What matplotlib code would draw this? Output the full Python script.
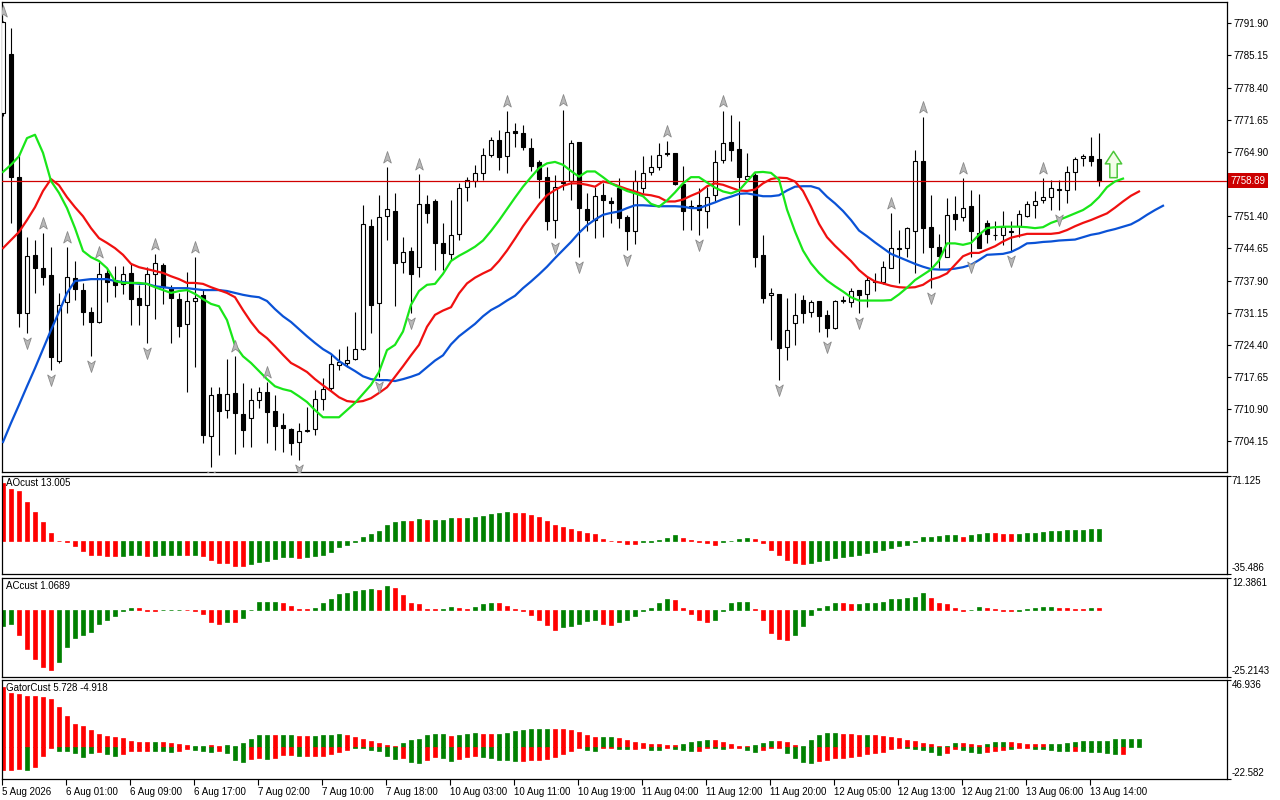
import numpy as np
import matplotlib
matplotlib.use('Agg')
import matplotlib.pyplot as plt
from matplotlib.path import Path
from matplotlib.transforms import offset_copy, blended_transform_factory

# ---------------- data ----------------
opens = [7773.1, 7785.5, 7759.6, 7731.1, 7743.2, 7740.5, 7739.0, 7721.0, 7733.4, 7738.4,
         7735.9, 7731.3, 7729.3, 7739.5, 7738.0, 7737.2, 7739.5, 7734.2, 7732.7, 7739.3,
         7741.1, 7736.3, 7734.0, 7728.8, 7733.6, 7734.8, 7705.2, 7714.0, 7710.7, 7714.3,
         7709.9, 7709.0, 7712.8, 7714.5, 7710.5, 7707.6, 7706.7, 7704.0, 7706.4, 7706.7,
         7713.0, 7715.3, 7720.2, 7720.6, 7721.4, 7723.5, 7749.3, 7733.2, 7751.4, 7752.5,
         7741.7, 7744.1, 7740.7, 7753.9, 7754.6, 7745.7, 7743.4, 7747.6, 7757.5, 7758.8,
         7760.4, 7764.2, 7767.5, 7764.0, 7769.3, 7768.8, 7765.7, 7762.7, 7759.6, 7750.7,
         7758.5, 7758.7, 7767.0, 7753.0, 7750.6, 7755.8, 7754.5, 7757.3, 7751.3, 7748.2,
         7757.3, 7760.6, 7761.8, 7764.7, 7764.6, 7758.2, 7753.5, 7753.8, 7752.4, 7755.9,
         7763.1, 7766.9, 7765.5, 7759.3, 7760.1, 7743.3, 7734.8, 7735.1, 7723.9, 7729.0,
         7733.8, 7731.2, 7733.6, 7730.6, 7727.9, 7733.7, 7733.5, 7735.9, 7735.0, 7737.6,
         7737.5, 7740.6, 7744.7, 7744.7, 7748.2, 7763.0, 7749.2, 7744.9, 7742.9, 7751.9,
         7751.2, 7753.5, 7747.8, 7749.9, 7747.5, 7747.4, 7748.1, 7749.3, 7751.5, 7753.7,
         7754.8, 7755.5, 7757.0, 7756.9, 7760.6, 7763.6, 7764.0, 7763.4]
highs = [7792.4, 7790.9, 7764.5, 7747.0, 7746.4, 7747.9, 7744.9, 7735.3, 7744.9, 7742.0,
         7737.4, 7732.3, 7741.8, 7740.5, 7741.0, 7740.9, 7741.6, 7737.0, 7740.7, 7743.5,
         7741.6, 7737.0, 7735.3, 7739.7, 7742.8, 7735.9, 7715.5, 7715.5, 7721.4, 7722.0,
         7716.4, 7715.3, 7715.5, 7716.6, 7713.8, 7710.1, 7707.0, 7708.0, 7711.3, 7714.9,
         7717.4, 7722.5, 7723.5, 7724.1, 7731.3, 7753.8, 7750.8, 7755.8, 7761.7, 7756.2,
         7747.1, 7745.0, 7760.2, 7755.9, 7755.0, 7749.9, 7754.8, 7758.3, 7759.7, 7762.2,
         7765.7, 7768.1, 7769.6, 7773.4, 7770.9, 7770.6, 7767.8, 7763.2, 7761.8, 7760.1,
         7773.8, 7767.4, 7767.0, 7756.2, 7757.6, 7758.3, 7755.5, 7759.4, 7751.6, 7761.1,
         7764.0, 7764.3, 7766.7, 7767.2, 7764.6, 7761.9, 7754.8, 7757.3, 7757.6, 7765.3,
         7773.4, 7772.7, 7771.3, 7764.6, 7760.4, 7747.5, 7736.3, 7735.1, 7734.2, 7735.2,
         7734.9, 7733.9, 7733.6, 7731.8, 7733.9, 7734.6, 7736.3, 7736.0, 7738.7, 7739.5,
         7741.9, 7752.0, 7748.5, 7749.2, 7765.4, 7772.3, 7755.9, 7747.7, 7755.2, 7755.6,
         7759.4, 7756.9, 7756.0, 7750.6, 7750.5, 7752.4, 7750.3, 7752.7, 7754.5, 7756.6,
         7759.4, 7759.0, 7759.1, 7761.9, 7763.9, 7764.4, 7768.1, 7768.8]
lows = [7772.5, 7750.0, 7728.1, 7726.9, 7735.3, 7736.9, 7719.1, 7720.6, 7731.1, 7733.8,
        7728.6, 7722.0, 7729.0, 7733.4, 7734.5, 7735.0, 7728.6, 7728.6, 7724.8, 7729.8,
        7733.0, 7724.8, 7726.0, 7714.5, 7719.7, 7703.8, 7698.7, 7701.2, 7709.0, 7701.5,
        7702.9, 7702.9, 7711.1, 7703.8, 7702.3, 7701.9, 7701.2, 7700.2, 7706.2, 7705.4,
        7710.7, 7714.9, 7719.1, 7719.7, 7721.2, 7723.3, 7726.9, 7717.6, 7746.4, 7732.5,
        7739.4, 7731.0, 7738.7, 7749.9, 7740.2, 7740.1, 7742.2, 7746.4, 7754.5, 7757.6,
        7759.0, 7763.9, 7761.1, 7760.4, 7766.0, 7765.3, 7760.8, 7755.2, 7748.5, 7746.8,
        7756.9, 7754.8, 7742.8, 7748.2, 7746.8, 7747.0, 7749.9, 7748.9, 7744.3, 7745.6,
        7756.2, 7760.1, 7761.1, 7764.0, 7758.0, 7748.5, 7748.5, 7747.5, 7748.9, 7754.5,
        7762.5, 7762.9, 7749.6, 7758.7, 7740.8, 7733.1, 7725.5, 7717.0, 7721.2, 7724.4,
        7728.9, 7730.2, 7727.2, 7726.1, 7727.8, 7733.2, 7732.4, 7731.0, 7732.4, 7735.6,
        7737.2, 7740.5, 7737.3, 7742.9, 7739.4, 7743.6, 7736.3, 7740.5, 7742.9, 7748.5,
        7750.3, 7742.9, 7744.8, 7745.7, 7746.4, 7745.4, 7744.0, 7747.1, 7751.2, 7751.0,
        7754.2, 7752.7, 7752.7, 7754.1, 7756.9, 7761.9, 7761.9, 7757.7]
closes = [7792.2, 7759.6, 7731.1, 7743.0, 7740.5, 7738.6, 7721.8, 7732.7, 7738.6, 7736.1,
          7731.3, 7729.2, 7739.3, 7737.6, 7737.0, 7739.3, 7734.0, 7732.7, 7739.3, 7741.6,
          7736.5, 7734.2, 7728.3, 7733.6, 7734.2, 7705.4, 7713.8, 7710.5, 7714.0, 7710.1,
          7706.5, 7712.8, 7714.5, 7710.3, 7707.3, 7706.9, 7703.8, 7706.3, 7706.6, 7713.0,
          7715.1, 7720.4, 7720.8, 7721.2, 7723.5, 7749.8, 7732.7, 7751.2, 7752.9, 7741.6,
          7743.8, 7739.2, 7753.9, 7752.0, 7745.7, 7743.6, 7747.4, 7757.3, 7759.0, 7760.4,
          7764.2, 7767.5, 7763.9, 7769.0, 7768.8, 7766.0, 7762.0, 7759.2, 7750.5, 7757.6,
          7758.3, 7766.7, 7753.2, 7750.6, 7755.6, 7754.9, 7754.1, 7751.0, 7748.4, 7758.7,
          7760.5, 7761.8, 7764.2, 7764.5, 7758.1, 7752.4, 7753.4, 7752.7, 7755.4, 7762.7,
          7766.7, 7765.2, 7759.7, 7759.8, 7742.9, 7734.2, 7735.2, 7723.7, 7727.5, 7730.7,
          7731.0, 7733.4, 7730.5, 7727.9, 7733.6, 7733.8, 7735.7, 7734.9, 7738.0, 7737.7,
          7740.7, 7744.7, 7744.6, 7748.9, 7763.0, 7748.9, 7745.0, 7743.1, 7751.7, 7750.9,
          7753.1, 7748.2, 7744.8, 7747.7, 7747.4, 7749.2, 7748.2, 7751.9, 7754.0, 7754.6,
          7755.4, 7757.3, 7757.1, 7760.6, 7763.4, 7764.0, 7762.9, 7758.9]

jaw = [7704.0, 7708.0, 7711.8, 7715.7, 7719.5, 7723.5, 7727.5, 7731.3, 7735.3, 7737.8,
       7738.0, 7738.2, 7738.2, 7738.2, 7737.8, 7737.6, 7737.4, 7737.2, 7737.2, 7736.7,
       7736.5, 7736.3, 7736.3, 7736.3, 7736.1, 7735.9, 7735.9, 7735.9, 7735.7, 7735.3,
       7734.9, 7734.6, 7734.4, 7733.6, 7731.9, 7730.4, 7729.2, 7727.7, 7726.2, 7724.8,
       7723.5, 7722.5, 7721.0, 7719.9, 7718.9, 7717.8, 7717.2, 7717.0, 7717.0, 7716.8,
       7717.2, 7717.7, 7718.3, 7719.7, 7721.1, 7722.2, 7724.5, 7726.2, 7727.5, 7728.8,
       7730.4, 7731.7, 7732.6, 7733.7, 7734.7, 7736.3, 7737.7, 7739.2, 7740.8, 7742.6,
       7744.3, 7746.0, 7747.9, 7749.5, 7750.7, 7751.7, 7752.1, 7752.4, 7753.1, 7753.7,
       7753.7, 7753.6, 7753.5, 7753.5, 7753.5, 7753.4, 7753.1, 7753.1, 7753.7, 7754.3,
       7755.0, 7755.5, 7756.1, 7756.2, 7755.9, 7755.6, 7755.6, 7755.8, 7756.8, 7757.6,
       7757.7, 7757.7, 7757.2, 7755.5, 7754.1, 7752.5, 7750.6, 7748.4, 7747.2, 7745.9,
       7744.7, 7743.5, 7742.8, 7742.1, 7741.4, 7740.8, 7740.3, 7740.2, 7740.2, 7740.4,
       7740.7, 7741.2, 7742.2, 7743.3, 7743.4, 7743.5, 7743.9, 7744.7, 7745.7, 7745.8,
       7746.0, 7746.1, 7746.3, 7746.4, 7746.5, 7747.0, 7747.5, 7747.8, 7748.3, 7748.7,
       7749.2, 7749.7, 7750.6, 7751.7, 7752.7, 7753.6]
teeth = [7744.7, 7746.4, 7748.1, 7750.6, 7753.3, 7756.7, 7759.2, 7757.9, 7755.4, 7753.3,
         7751.4, 7748.9, 7746.8, 7745.8, 7744.7, 7743.3, 7741.4, 7740.7, 7740.3, 7739.9,
         7739.5, 7738.8, 7738.2, 7737.4, 7737.4, 7737.2, 7736.5, 7735.9, 7735.3, 7734.4,
         7731.7, 7729.2, 7727.1, 7725.8, 7724.1, 7722.3, 7720.6, 7719.7, 7718.7, 7717.2,
         7715.9, 7714.7, 7713.4, 7712.6, 7712.4, 7712.6, 7713.2, 7714.3, 7715.5, 7717.7,
         7719.9, 7722.2, 7724.4, 7728.2, 7730.7, 7731.6, 7732.3, 7735.2, 7737.3, 7738.5,
         7739.4, 7740.2, 7742.0, 7744.2, 7746.7, 7749.3, 7751.6, 7753.9, 7755.8, 7756.9,
         7757.8, 7758.3, 7758.3, 7758.0, 7757.6, 7758.7, 7758.3, 7757.7, 7757.1, 7756.6,
         7756.0, 7755.8, 7755.4, 7754.5, 7754.5, 7754.9, 7755.7, 7756.4, 7757.7, 7758.3,
         7758.0, 7757.4, 7756.8, 7756.7, 7757.0, 7758.3, 7759.2, 7759.5, 7759.4, 7758.7,
         7756.7, 7753.4, 7749.8, 7747.0, 7745.2, 7743.6, 7742.0, 7740.1, 7738.7, 7737.7,
         7737.3, 7736.8, 7736.5, 7736.4, 7736.5, 7737.0, 7738.1, 7738.6, 7739.4, 7741.2,
         7743.0, 7743.7, 7743.7, 7744.4, 7745.1, 7746.1, 7746.9, 7747.3, 7747.7, 7747.7,
         7747.7, 7747.7, 7747.9, 7748.5, 7749.3, 7750.0, 7750.6, 7751.3, 7752.0, 7753.2,
         7754.5, 7755.7, 7756.6]
lips = [7760.7, 7762.2, 7764.0, 7767.8, 7768.5, 7764.7, 7758.8, 7756.3, 7753.1, 7748.9,
        7744.1, 7742.8, 7742.0, 7740.5, 7737.8, 7737.4, 7737.4, 7737.4, 7737.2, 7736.5,
        7735.9, 7735.3, 7735.7, 7735.9, 7735.1, 7734.0, 7733.0, 7732.5, 7729.6, 7724.3,
        7722.0, 7720.6, 7718.9, 7717.2, 7715.7, 7715.1, 7714.7, 7713.6, 7712.4, 7710.7,
        7709.2, 7709.2, 7709.2, 7710.7, 7712.2, 7714.1, 7716.0, 7718.7, 7723.3, 7724.4,
        7727.2, 7732.8, 7735.7, 7737.0, 7737.2, 7739.3, 7742.0, 7743.1, 7744.0, 7745.0,
        7746.3, 7748.3, 7750.5, 7752.9, 7755.3, 7757.6, 7759.6, 7761.5, 7762.5, 7762.8,
        7762.2, 7760.9, 7759.7, 7760.8, 7760.8, 7759.6, 7758.3, 7757.5, 7756.7, 7756.2,
        7755.6, 7754.0, 7753.4, 7754.7, 7756.4, 7758.3, 7759.6, 7759.6, 7758.5, 7757.4,
        7756.6, 7756.2, 7756.8, 7758.7, 7760.6, 7760.7, 7760.5, 7759.1, 7752.8, 7748.2,
        7744.2, 7741.5, 7739.5, 7737.9, 7736.7, 7735.6, 7734.4, 7733.7, 7733.7, 7733.7,
        7733.7, 7733.8, 7735.0, 7736.4, 7738.0, 7739.1, 7740.2, 7742.1, 7745.7, 7745.7,
        7745.4, 7745.8, 7747.5, 7748.9, 7749.1, 7749.2, 7749.2, 7749.2, 7749.1, 7748.9,
        7749.1, 7750.0, 7750.6, 7751.3, 7752.0, 7752.7, 7753.8, 7755.4, 7757.5, 7758.7,
        7759.3]

fractal_up = [0, 5, 8, 12, 19, 24, 29, 33, 48, 52, 63, 70, 83, 90, 111, 115, 120, 130]
fractal_down = [3, 6, 11, 18, 26, 37, 47, 51, 69, 72, 78, 87, 97, 103, 107, 116, 121, 126, 132]
signal_x, signal_price = 138.8, 7762.4
current_price = 7758.89

ao = [63.0, 56.8, 53.9, 42.9, 31.9, 20.9, 8.4, 0.4, -1.1, -5.5,
      -11.0, -14.7, -14.7, -16.5, -16.5, -16.5, -14.7, -14.7, -15.8, -15.8,
      -14.7, -14.7, -14.7, -14.7, -14.7, -16.5, -20.2, -23.1, -23.1, -26.7,
      -26.7, -24.9, -22.7, -21.3, -19.1, -17.6, -17.6, -18.3, -17.6, -16.5,
      -14.7, -11.4, -6.6, -4.0, -0.7, 4.4, 7.3, 10.6, 17.2, 20.5,
      21.6, 21.6, 23.8, 22.7, 22.7, 22.7, 24.9, 24.9, 24.9, 26.0,
      27.5, 29.3, 30.4, 31.5, 30.4, 30.4, 28.2, 26.0, 21.6, 17.2,
      15.0, 12.8, 10.6, 8.4, 7.3, 2.9, 0.7, -1.1, -2.6, -2.6,
      -1.1, -1.1, 1.8, 4.0, 6.2, 4.0, 1.8, -1.1, -2.2, -3.7,
      -1.1, 0.4, 2.9, 4.0, 2.9, -1.8, -9.2, -14.7, -20.2, -23.1,
      -24.5, -23.1, -21.3, -20.2, -18.7, -17.6, -16.5, -15.4, -13.2, -12.1,
      -9.9, -7.3, -5.5, -3.7, -1.1, 4.4, 4.4, 5.5, 6.2, 6.2,
      5.1, 6.2, 7.7, 8.8, 8.8, 7.7, 7.7, 7.7, 8.8, 8.8,
      9.9, 10.6, 10.6, 12.1, 12.1, 12.1, 13.2, 13.2]
ao_colors = ("rrrrrrrrrrrrrrr" "ggg" "r" "gggg" "r" "g" "rrrrrr" "gggggg" "r" "gggggggggg"
             "ggg" "r" "g" "r" "ggg" "r" "gggggg" "rrrrrrrrrrrrrrrr" "ggggg" "rrrrr" "gggg"
             "rrrrrrr" "ggggggggggggggggggg" "r" "ggg" "rrr" "ggggggggggg")

ac = [-5.9, -5.0, -9.3, -14.7, -18.5, -21.6, -22.4, -19.6, -13.9, -10.5,
      -9.3, -8.2, -5.1, -3.6, -2.3, -0.3, 1.0, 1.0, -0.2, -0.3,
      0.1, 0.1, 0.1, 0.1, -0.3, -1.5, -4.3, -5.0, -4.3, -4.3,
      -3.1, 0.1, 3.1, 3.3, 3.3, 2.7, 1.8, 0.3, 0.3, 1.0,
      2.6, 4.1, 6.1, 6.7, 7.2, 7.5, 7.9, 7.5, 9.1, 8.3,
      5.6, 2.9, 2.2, 0.3, 0.3, 0.3, 1.4, 1.0, 0.6, 1.4,
      2.2, 2.9, 2.9, 1.8, 0.6, -0.3, -1.9, -3.5, -5.4, -7.3,
      -6.5, -5.8, -5.0, -4.2, -3.8, -5.0, -5.4, -4.6, -3.8, -2.3,
      -0.3, 1.0, 2.6, 4.1, 3.7, 1.0, -1.5, -3.5, -4.6, -3.8,
      -0.3, 2.6, 3.3, 3.3, 0.6, -3.8, -8.4, -10.7, -11.1, -9.2,
      -5.8, -1.9, 1.0, 1.8, 2.6, 2.6, 2.2, 2.2, 2.6, 2.9,
      3.3, 4.1, 4.1, 4.5, 5.2, 6.4, 4.5, 2.9, 2.2, 1.0,
      -0.3, 0.1, 1.4, 1.0, 0.6, -0.3, -0.3, -0.3, 0.6, 1.0,
      1.4, 1.4, 1.0, 1.0, 0.6, 0.6, 1.0, 1.0]
ac_colors = ("gg" "rrrrr" "gggggggggg" "rrr" "ggg" "rrrrr" "g" "r" "ggggg" "rrrr" "gggggggg"
             "r" "g" "rrrrrr" "gg" "rr" "ggg" "rrrrrrrr" "ggggg" "rr" "ggggggg" "rrrrr"
             "ggggg" "rrrrr" "gggggg" "rr" "ggggggggg" "rrrrr" "gg" "rrrr" "ggggg" "rrrr" "g" "r")

gator_up = [41.4, 37.4, 36.7, 35.5, 35.5, 34.5, 33.1, 27.7, 21.3, 16.1,
            14.2, 11.8, 9.0, 7.6, 6.6, 5.9, 4.0, 3.3, 3.3, 3.3,
            3.3, 2.6, 1.7, 1.2, 0.7, 0.7, 1.2, 0.7, 1.2, 0.7,
            2.8, 5.4, 8.3, 8.3, 8.3, 8.3, 8.3, 7.6, 7.6, 7.6,
            8.3, 8.3, 9.0, 8.3, 6.6, 5.4, 4.0, 2.8, 1.2, 0.5,
            2.8, 4.7, 5.4, 8.3, 9.0, 9.0, 7.6, 8.3, 9.0, 9.7,
            9.0, 9.0, 9.0, 9.7, 11.1, 11.8, 12.5, 12.5, 12.5, 12.5,
            12.5, 11.8, 10.4, 8.3, 6.9, 6.9, 6.9, 6.1, 4.7, 3.3,
            2.6, 1.9, 1.9, 1.2, 1.2, 1.9, 3.3, 4.0, 4.7, 4.7,
            3.3, 1.9, 0.5, 0.5, 1.2, 2.8, 4.3, 4.3, 3.3, 1.4,
            0.7, 4.7, 8.3, 9.9, 9.9, 9.2, 9.2, 8.5, 8.5, 8.5,
            7.8, 6.9, 6.4, 4.7, 4.3, 2.8, 1.9, 0.5, 0.5, 2.8,
            2.8, 1.9, 1.4, 2.1, 3.3, 3.3, 3.3, 2.6, 1.9, 1.9,
            1.9, 1.9, 1.9, 2.6, 3.3, 4.0, 4.0, 4.0, 4.0, 5.4,
            5.4, 5.7, 5.7]
gator_up_colors = ("rrrrrrrrrrrrrrrrrrr" "g" "rrrr" "gg" "rr" "gggggg" "r" "gg" "rr" "gggg"
                   "rrrrrrr" "gggggg" "r" "ggg" "rr" "ggggggg" "rrrrrr" "gg" "rrrrrrrr" "gggg"
                   "rrrrr" "ggg" "rrr" "ggggg" "rrr" "g" "rrrrrrrrr" "gg" "rrr" "ggg" "rrrrr"
                   "gggggggggggg")
gator_down = [-16.6, -16.6, -15.8, -16.6, -14.4, -6.4, -0.7, -2.8, -2.8, -4.5,
              -7.1, -4.7, -3.5, -5.4, -6.4, -5.4, -3.1, -3.1, -3.1, -3.1,
              -3.1, -3.5, -3.1, -1.7, -2.4, -3.1, -3.5, -3.1, -4.3, -9.5,
              -10.6, -8.3, -7.8, -8.8, -7.8, -5.9, -5.9, -6.6, -6.6, -6.4,
              -6.4, -5.2, -3.5, -2.4, -1.2, -0.7, -2.4, -3.1, -6.6, -8.8,
              -7.8, -10.6, -11.4, -9.5, -7.1, -7.8, -9.9, -8.5, -7.1, -6.4,
              -7.1, -7.8, -9.5, -9.5, -9.9, -9.9, -9.2, -9.2, -8.8, -7.1,
              -5.0, -2.8, -0.7, -2.6, -2.8, -0.7, -0.7, -1.7, -1.7, -1.7,
              -0.7, -2.4, -2.4, -0.7, -1.7, -2.4, -3.1, -3.1, -0.7, -0.7,
              -1.7, -0.7, -0.7, -2.4, -3.5, -2.4, -0.7, -0.7, -4.3, -7.8,
              -10.6, -11.4, -9.9, -9.2, -7.8, -7.8, -7.1, -6.4, -5.0, -4.3,
              -3.5, -1.4, -0.7, -0.7, -1.4, -2.1, -3.5, -5.7, -4.3, -1.4,
              -2.4, -3.5, -4.3, -3.5, -2.8, -2.4, -1.4, -0.7, -0.7, -1.4,
              -1.4, -2.1, -2.8, -2.8, -2.8, -2.8, -3.5, -3.5, -4.3, -5.0,
              -4.9]
gator_down_colors = ("rrr" "g" "rrr" "ggggg" "r" "gg" "rrrr" "ggg" "rr" "ggg" "r" "ggg" "rr"
                     "g" "rrr" "g" "rrrrrr" "gggggg" "r" "gg" "rr" "gg" "rrr" "ggggg" "rrrrrrrr"
                     "gg" "rr" "gg" "rr" "gg" "r" "ggg" "rr" "gg" "rr" "gg" "rrr" "gggg"
                     "rrrrrrrrrrr" "ggggg" "rr" "ggg" "rrr" "g" "rr" "ggggg" "r" "ggggg" "r")

time_labels = ["5 Aug 2026", "6 Aug 01:00", "6 Aug 09:00", "6 Aug 17:00", "7 Aug 02:00",
               "7 Aug 10:00", "7 Aug 18:00", "10 Aug 03:00", "10 Aug 11:00", "10 Aug 19:00",
               "11 Aug 04:00", "11 Aug 12:00", "11 Aug 20:00", "12 Aug 05:00", "12 Aug 13:00",
               "12 Aug 21:00", "13 Aug 06:00", "13 Aug 14:00"]
time_label_step = 8

ao_range = (-35.486, 71.125)
ac_range = (-25.2143, 12.3861)
gator_range = (-22.582, 46.936)
price_range = (7697.71, 7796.37)
price_tick_start, price_tick_step = 7704.15, 6.75

# ---------------- styling ----------------
plt.rcParams['font.family'] = ['Liberation Sans', 'DejaVu Sans']
plt.rcParams['font.size'] = 7
FS = 7
GREEN_H = '#008000'
RED_H = '#ff0000'
cmap = {'g': GREEN_H, 'r': RED_H}

W, H = 1280, 800
fig = plt.figure(figsize=(W / 100, H / 100), dpi=100)
fig.patch.set_facecolor('white')

def ax_at(l, t, r, b):
    return fig.add_axes([l / W, 1 - b / H, (r - l) / W, (b - t) / H])

L, R = 2, 1227
ax_main = ax_at(L, 2, R, 472)
ax_ao = ax_at(L, 475.5, R, 574)
ax_ac = ax_at(L, 577.5, R, 677)
ax_gt = ax_at(L, 679.5, R, 779)
axes = [ax_main, ax_ao, ax_ac, ax_gt]

xmin, xmax = (L - 3) / 8.0, (R - 3) / 8.0
for ax in axes:
    ax.set_xlim(xmin, xmax)
    ax.set_facecolor('white')
    for s in ax.spines.values():
        s.set_color('black')
        s.set_linewidth(0.9)
    ax.tick_params(axis='x', which='both', bottom=False, labelbottom=False)
    ax.yaxis.tick_right()
    ax.tick_params(axis='y', direction='out', length=3, width=0.8, pad=1.5,
                   labelsize=FS, colors='black')

# ---------------- main chart ----------------
n = len(opens)
x = np.arange(n)
o = np.array(opens); h = np.array(highs); l = np.array(lows); c = np.array(closes)
ax_main.vlines(x, l, h, color='black', linewidth=0.8, zorder=2)
bull = c >= o
body_bottom = np.minimum(o, c)
body_h = np.maximum(np.abs(c - o), 0.12)
ax_main.bar(x[bull], body_h[bull], bottom=body_bottom[bull], width=0.56,
            color='white', edgecolor='black', linewidth=0.8, zorder=3)
ax_main.bar(x[~bull], body_h[~bull], bottom=body_bottom[~bull], width=0.56,
            color='black', edgecolor='black', linewidth=0.8, zorder=3)

ax_main.plot(np.arange(len(jaw)), jaw, color='#0a52d6', linewidth=1.6, zorder=4,
             solid_joinstyle='round')
ax_main.plot(np.arange(len(teeth)), teeth, color='#f01010', linewidth=1.6, zorder=4,
             solid_joinstyle='round')
ax_main.plot(np.arange(len(lips)), lips, color='#19e619', linewidth=1.6, zorder=4,
             solid_joinstyle='round')

ax_main.axhline(current_price, color='#d00000', linewidth=0.9, zorder=3.5)

# fractal arrows
arrow_up = Path([(0, 1.0), (0.55, -0.65), (0, -0.25), (-0.55, -0.65), (0, 1.0)],
                [Path.MOVETO, Path.LINETO, Path.LINETO, Path.LINETO, Path.CLOSEPOLY])
arrow_dn = Path([(0, -1.0), (0.55, 0.65), (0, 0.25), (-0.55, 0.65), (0, -1.0)],
                [Path.MOVETO, Path.LINETO, Path.LINETO, Path.LINETO, Path.CLOSEPOLY])
tr_up = offset_copy(ax_main.transData, fig=fig, x=0, y=9, units='dots')
tr_dn = offset_copy(ax_main.transData, fig=fig, x=0, y=-9, units='dots')
ax_main.plot(fractal_up, [highs[i] for i in fractal_up], linestyle='none',
             marker=arrow_up, markersize=10, markerfacecolor='#b8b8b8',
             markeredgecolor='#8a8a8a', markeredgewidth=0.6, transform=tr_up, zorder=5)
ax_main.plot(fractal_down, [lows[i] for i in fractal_down], linestyle='none',
             marker=arrow_dn, markersize=10, markerfacecolor='#b8b8b8',
             markeredgecolor='#8a8a8a', markeredgewidth=0.6, transform=tr_dn, zorder=5)

# signal arrow
block_up = Path([(-0.28, -1.0), (0.28, -1.0), (0.28, 0.05), (0.62, 0.05), (0, 1.0),
                 (-0.62, 0.05), (-0.28, 0.05), (-0.28, -1.0)],
                [Path.MOVETO] + [Path.LINETO] * 6 + [Path.CLOSEPOLY])
ax_main.plot([signal_x], [signal_price], linestyle='none', marker=block_up,
             markersize=19, markerfacecolor='#f2fde8', markeredgecolor='#4cc73a',
             markeredgewidth=1.1, zorder=5)

ax_main.set_ylim(*price_range)
pticks = np.arange(price_tick_start, price_range[1], price_tick_step)
ax_main.set_yticks(pticks)
# the tick hidden behind the current-price box keeps its mark but not its text
ax_main.set_yticklabels(["" if abs(v - current_price) < price_tick_step / 3 else f"{v:.2f}"
                         for v in pticks])
ax_main.annotate(f"{current_price:.2f}", xy=(1, current_price),
                 xycoords=('axes fraction', 'data'), xytext=(2.5, 0),
                 textcoords='offset points', ha='left', va='center', color='white',
                 fontsize=FS, annotation_clip=False, zorder=10,
                 bbox=dict(boxstyle='square,pad=0.28', fc='#cc0000', ec='none'))

# ---------------- sub panels ----------------
def range_labels(ax, rng):
    ax.set_ylim(*rng)
    ax.set_yticks(list(rng))
    ax.set_yticklabels(['', ''])
    bt = blended_transform_factory(ax.transAxes, ax.transData)
    ax.annotate(f"{rng[1]:g}", xy=(1, rng[1]), xycoords=bt, xytext=(3.5, -0.5),
                textcoords='offset points', ha='left', va='top', fontsize=FS,
                annotation_clip=False)
    ax.annotate(f"{rng[0]:g}", xy=(1, rng[0]), xycoords=bt, xytext=(3.5, 0.5),
                textcoords='offset points', ha='left', va='bottom', fontsize=FS,
                annotation_clip=False)

def panel_title(ax, title):
    ax.text(4 / 1225, 1 - 3 / 99, title, transform=ax.transAxes, ha='left', va='top',
            fontsize=FS, color='black')

def hist_panel(ax, vals, cols, rng, title):
    xs = np.arange(len(vals))
    colors = [cmap[k] for k in cols]
    ax.bar(xs, vals, width=0.5, color=colors, edgecolor=colors, linewidth=0.5)
    range_labels(ax, rng)
    panel_title(ax, title)

hist_panel(ax_ao, ao, ao_colors, ao_range, "AOcust 13.005")
hist_panel(ax_ac, ac, ac_colors, ac_range, "ACcust 1.0689")

up_cols = [cmap[k] for k in gator_up_colors]
dn_cols = [cmap[k] for k in gator_down_colors]
ax_gt.bar(np.arange(len(gator_up)), gator_up, width=0.5, color=up_cols,
          edgecolor=up_cols, linewidth=0.5)
ax_gt.bar(np.arange(len(gator_down)), gator_down, width=0.5, color=dn_cols,
          edgecolor=dn_cols, linewidth=0.5)
range_labels(ax_gt, gator_range)
panel_title(ax_gt, "GatorCust 5.728 -4.918")

# time axis
tick_pos = [k * time_label_step - 0.125 for k in range(len(time_labels))]
ax_gt.tick_params(axis='x', which='both', bottom=True, labelbottom=True,
                  direction='out', length=4, width=0.8, pad=1.5, labelsize=FS)
ax_gt.set_xticks(tick_pos)
ax_gt.set_xticklabels(time_labels, ha='left')
ax_gt.set_xlim(xmin, xmax)

fig.savefig('out.png', dpi=100, facecolor='white')
